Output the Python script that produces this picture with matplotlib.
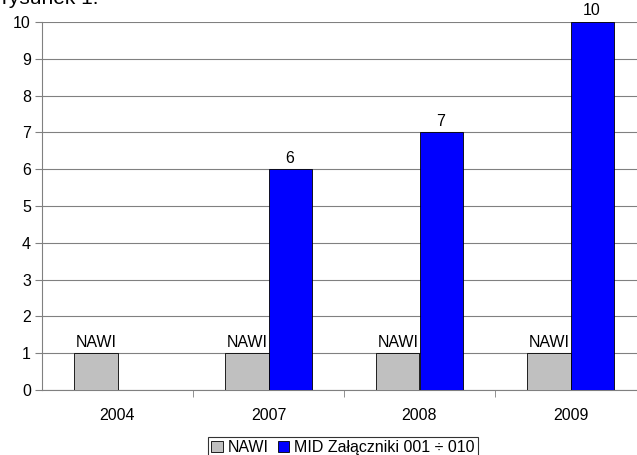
import numpy as np
import matplotlib.pyplot as plt

plt.rcParams['font.family'] = ['Liberation Sans', 'DejaVu Sans']

# data
years = ["2004", "2007", "2008", "2009"]
nawi = [1, 1, 1, 1]
mid = [0, 6, 7, 10]
mid_labels = ["", "6", "7", "10"]

fs = 11.5

fig = plt.figure(figsize=(6.37, 4.55), dpi=100)
W, H = 637.0, 455.0
# plot area: left 42, right 646 (runs past the edge), top 22, bottom 390
ax = fig.add_axes([42 / W, (H - 390) / H, 604 / W, 368 / H])

x = np.arange(len(years))
bw = 0.285

ax.bar(x - bw / 2, nawi, bw, color='#c0c0c0', edgecolor='#000000', linewidth=0.6, label='NAWI', zorder=3)
mid_plot = [v if v > 0 else np.nan for v in mid]
ax.bar(x + bw / 2, mid_plot, bw, color='#0000ff', edgecolor='#000000', linewidth=0.6,
       label='MID Załączniki 001 ÷ 010', zorder=3)

for i in range(len(years)):
    ax.text(x[i] - bw / 2, nawi[i] + 0.1, "NAWI", ha='center', va='bottom', fontsize=fs, zorder=4)
    if mid_labels[i]:
        ax.text(x[i] + bw / 2, mid[i] + 0.1, mid_labels[i], ha='center', va='bottom', fontsize=fs,
                zorder=4, clip_on=False)

ax.set_xlim(-0.5, len(years) - 0.5)
ax.set_ylim(0, 10)
ax.set_yticks(range(0, 11))
ax.yaxis.grid(True, color='#808080', linewidth=0.8, zorder=0)
ax.set_axisbelow(True)

ax.set_xticks(x)
ax.set_xticklabels(years, fontsize=fs)
ax.set_xticks(np.arange(0.5, len(years) - 0.5, 1), minor=True)
ax.tick_params(axis='x', which='major', length=0, pad=13)
ax.tick_params(axis='x', which='minor', length=5, color='#808080', direction='out')
ax.tick_params(axis='y', labelsize=fs, length=5, color='#808080', pad=3)

for s in ['top', 'right']:
    ax.spines[s].set_visible(False)
ax.spines['left'].set_color('#808080')
ax.spines['bottom'].set_color('#808080')

fig.text(2 / W, 1 - 4 / H, "rysunek 1:", fontsize=15, va='baseline', ha='left')

leg = fig.legend(loc='upper center', bbox_to_anchor=(343 / W, 1 - 437 / H), ncol=2,
                 fontsize=fs, frameon=True, fancybox=False, handlelength=0.7, handleheight=0.7,
                 handletextpad=0.3, columnspacing=0.6, borderpad=0.2, borderaxespad=0)
leg.get_frame().set_edgecolor('#000000')
leg.get_frame().set_linewidth(0.8)

fig.savefig("out.png", dpi=100)
